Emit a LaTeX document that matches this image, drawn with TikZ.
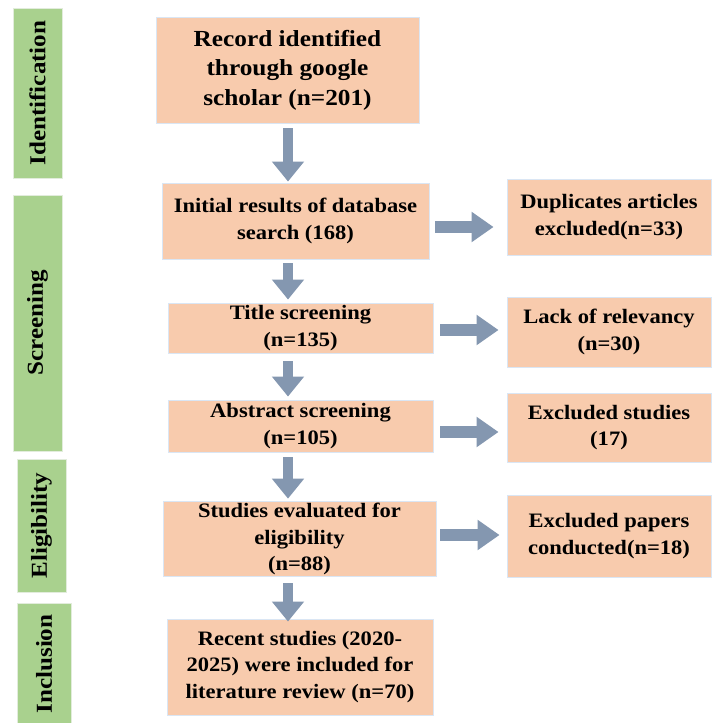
\documentclass[tikz,border=0pt]{standalone}
\usepackage{fontspec}
\setmainfont{Liberation Serif}[FakeStretch=1.1]
\usetikzlibrary{arrows.meta}
\definecolor{boxfill}{RGB}{248,203,173}
\definecolor{boxline}{RGB}{218,230,244}
\definecolor{greenfill}{RGB}{169,209,142}
\definecolor{greenline}{RGB}{226,236,220}
\definecolor{arrowc}{RGB}{132,151,176}
\tikzset{
  box/.style={fill=boxfill, draw=boxline, line width=0.9pt, align=center,
    inner sep=2pt, font=\bfseries\fontsize{20.5}{26.5}\selectfont},
  bigbox/.style={box, font=\bfseries\fontsize{23}{29.5}\selectfont},
  stage/.style={fill=greenfill, draw=greenline, line width=0.9pt, inner sep=0pt},
  stagetext/.style={rotate=90, font=\bfseries\fontsize{22.8}{26}\selectfont},
  darrow/.style={draw=arrowc, line width=10pt,
    -{Triangle[width=31pt,length=20pt]}, arrowc},
  harrow/.style={draw=arrowc, line width=12pt,
    -{Triangle[width=29pt,length=22pt]}, arrowc},
}
\begin{document}
\begin{tikzpicture}[x=1pt,y=-1pt]
\useasboundingbox[fill=white] (0,0) rectangle (713,723);
% stage bars
\node[stage, minimum width=49pt, minimum height=170pt] (g1) at (37.5,93) {};
\node[stagetext] (t1) at (g1) {Identification};
\node[stage, minimum width=49pt, minimum height=256pt] (g2) at (37.5,323) {};
\node[stagetext] (t2) at (g2) {Screening};
\node[stage, minimum width=49pt, minimum height=133pt] (g3) at (41.5,525.5) {};
\node[stagetext] (t3) at (g3) {Eligibility};
\node[stage, minimum width=54pt, minimum height=122pt] (g4) at (44,664) {};
\node[stagetext] (t4) at (g4) {Inclusion};
% main boxes
\node[bigbox, minimum width=263pt, minimum height=106pt] (b1) at (287.5,70)
  {Record identified\\through google\\scholar (n=201)};
\node[box, minimum width=267pt, minimum height=76pt] (b2) at (295.5,221)
  {Initial results of database\\search (168)};
\node[box, minimum width=265pt, minimum height=50pt] (b3) at (300.5,328)
  {Title screening\\(n=135)};
\node[box, minimum width=265pt, minimum height=52pt] (b4) at (300.5,426)
  {Abstract screening\\(n=105)};
\node[box, minimum width=273pt, minimum height=74pt] (b5) at (299.5,539)
  {Studies evaluated for\\eligibility\\(n=88)};
\node[box, minimum width=266pt, minimum height=96pt] (b6) at (300,667)
  {Recent studies (2020-\\2025) were included for\\literature review (n=70)};
% right boxes
\node[box, minimum width=204pt, minimum height=76pt] (r1) at (609,217)
  {Duplicates articles\\excluded(n=33)};
\node[box, minimum width=204pt, minimum height=70pt] (r2) at (609,332)
  {Lack of relevancy\\(n=30)};
\node[box, minimum width=204pt, minimum height=69pt] (r3) at (609,427.5)
  {Excluded studies\\(17)};
\node[box, minimum width=204pt, minimum height=82pt] (r4) at (609,536)
  {Excluded papers\\conducted(n=18)};
% arrow guide coordinates
\coordinate (ax) at (288,0);
\coordinate (h1) at (0,227);
\coordinate (h2) at (0,330);
\coordinate (h3) at (0,432);
\coordinate (h4) at (0,535);
% down arrows
\draw[darrow, shorten <=5pt, shorten >=1pt] (b1.south -| ax) -- (b2.north -| ax);
\draw[darrow, shorten <=4pt, shorten >=3pt] (b2.south -| ax) -- (b3.north -| ax);
\draw[darrow, shorten <=8pt, shorten >=3pt] (b3.south -| ax) -- (b4.north -| ax);
\draw[darrow, shorten <=5pt, shorten >=2pt] (b4.south -| ax) -- (b5.north -| ax);
\draw[darrow, shorten <=6pt, shorten >=-3pt] (b5.south -| ax) -- (b6.north -| ax);
% right arrows
\draw[harrow, shorten <=6pt, shorten >=13pt] (b2.east |- h1) -- (r1.west |- h1);
\draw[harrow, shorten <=7pt, shorten >=8pt] (b3.east |- h2) -- (r2.west |- h2);
\draw[harrow, shorten <=7pt, shorten >=8pt] (b4.east |- h3) -- (r3.west |- h3);
\draw[harrow, shorten <=4pt, shorten >=7pt] (b5.east |- h4) -- (r4.west |- h4);
\end{tikzpicture}
\end{document}
